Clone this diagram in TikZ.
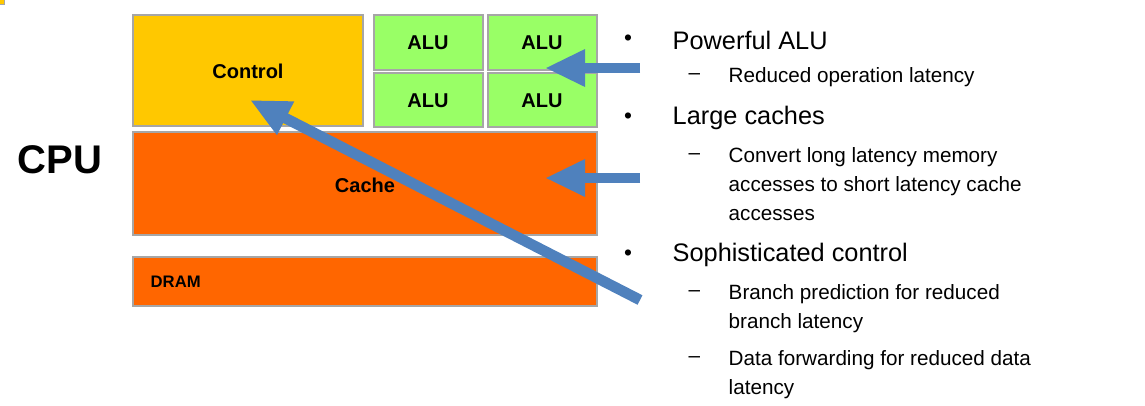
\documentclass[tikz,border=0pt]{standalone}
\usepackage{fontspec}
\setmainfont{Liberation Sans}
\usetikzlibrary{arrows.meta}
\definecolor{ctl}{HTML}{FFC800}
\definecolor{alu}{HTML}{99FF66}
\definecolor{cache}{HTML}{FF6600}
\definecolor{arr}{HTML}{4F81BD}
\begin{document}
\begin{tikzpicture}[x=0.75pt,y=-0.75pt,
 box/.style={draw=gray!70,line width=0.8pt,font=\fontsize{15}{18}\selectfont\bfseries},
 big/.style={arr,line width=8pt,-{Triangle[length=30pt,width=26pt]}},
 txt/.style={anchor=west,font=\fontsize{19}{22}\selectfont},
 sub/.style={anchor=west,font=\fontsize{15.5}{18}\selectfont},
 bul/.style={font=\fontsize{17}{20}\selectfont}]
\useasboundingbox (0,0) rectangle (1145,405);
\fill[white] (0,0) rectangle (1145,405);
\node[box,fill=ctl] (ctl) at (0,0) {};
\draw[box,fill=ctl] (133,15) rectangle (363,126);
\node[font=\fontsize{15}{18}\selectfont\bfseries] (ctlt) at (248,71) {Control};
\draw[box,fill=alu] (374,15) rectangle (483,70);
\draw[box,fill=alu] (488,15) rectangle (597,70);
\draw[box,fill=alu] (374,73) rectangle (483,127);
\draw[box,fill=alu] (488,73) rectangle (597,127);
\node[font=\fontsize{15}{18}\selectfont\bfseries] (a1) at (428,43) {ALU};
\node[font=\fontsize{15}{18}\selectfont\bfseries] (a2) at (542,43) {ALU};
\node[font=\fontsize{15}{18}\selectfont\bfseries] (a3) at (428,101) {ALU};
\node[font=\fontsize{15}{18}\selectfont\bfseries] (a4) at (542,101) {ALU};
\draw[box,fill=cache] (133,132) rectangle (597,235);
\node[font=\fontsize{15}{18}\selectfont\bfseries] (ca) at (365,185) {Cache};
\draw[box,fill=cache] (133,257) rectangle (597,306);
\node[anchor=west,font=\fontsize{12.5}{15}\selectfont\bfseries] (dr) at (146,282) {DRAM};
\node[font=\fontsize{30}{34}\selectfont\bfseries] (cpu) at (60,160) {CPU};
\coordinate (s1) at (640,68); \coordinate (e1) at (545,68);
\coordinate (s2) at (640,178); \coordinate (e2) at (545,178);
\coordinate (s3) at (640,300); \coordinate (e3) at (250,100);
\draw[big] (s1) -- (e1);
\draw[big] (s2) -- (e2);
\draw[big] (s3) -- (e3);
\foreach \y in {40,118,255} \node[bul] at (628,\y) {•};
\foreach \y in {77,157,294,360} \node[sub] at (684,\y) {–};
\node[txt] (t1) at (668,40) {Powerful ALU};
\node[sub] (t2) at (724,77) {Reduced operation latency};
\node[txt] (t3) at (668,118) {Large caches};
\node[sub] (t4) at (724,157) {Convert long latency memory};
\node[sub] (t5) at (724,186) {accesses to short latency cache};
\node[sub] (t6) at (724,215) {accesses};
\node[txt] (t7) at (668,255) {Sophisticated control};
\node[sub] (t8) at (724,294) {Branch prediction for reduced};
\node[sub] (t9) at (724,323) {branch latency};
\node[sub] (t10) at (724,360) {Data forwarding for reduced data};
\node[sub] (t11) at (724,389) {latency};
\end{tikzpicture}
\end{document}
